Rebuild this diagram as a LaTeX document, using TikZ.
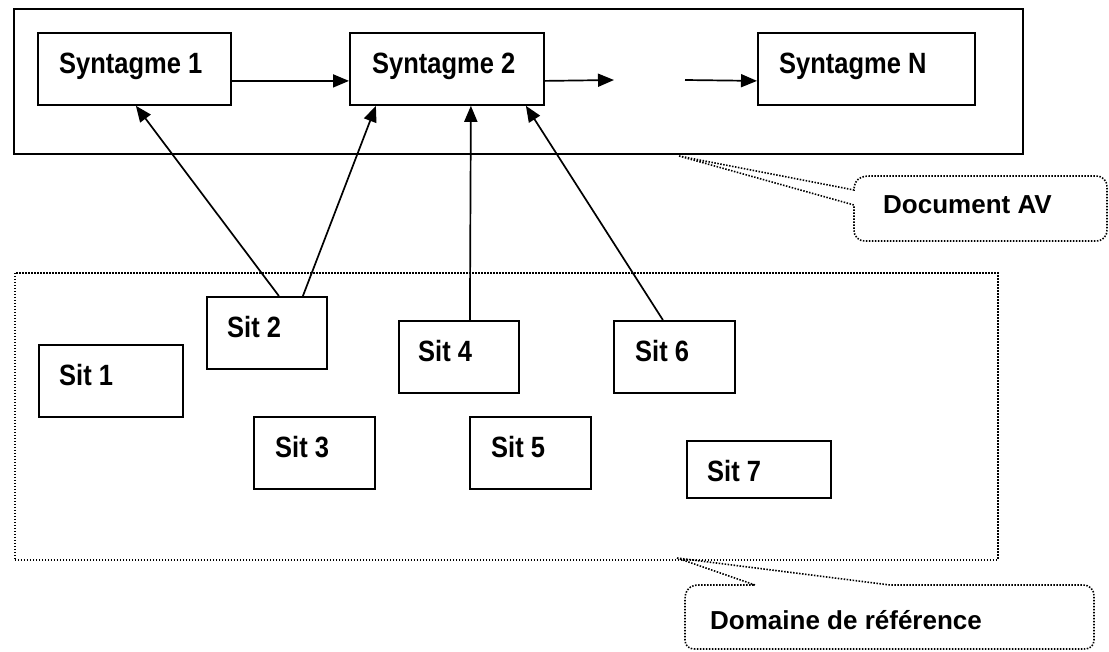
\documentclass[tikz,border=0pt]{standalone}
\usepackage{fontspec}
\usepackage{graphicx}
\setmainfont{Liberation Sans}
\usetikzlibrary{arrows.meta}
\newcommand\tallt[1]{\scalebox{1}[1.15]{#1}}
\tikzset{
  sbox/.style={draw=black, line width=1.8pt, fill=white, rectangle, inner sep=0pt, anchor=north west},
  txt/.style={anchor=base west, inner sep=0pt, font=\fontsize{25.5}{30}\selectfont\bfseries},
  arr/.style={line width=1.7pt, -{Triangle[length=16pt,width=13pt]}},
  dotline/.style={line width=1.6pt, dash pattern=on 1.5pt off 1.5pt},
}
\begin{document}
\begin{tikzpicture}[x=1pt, y=-1pt]
\useasboundingbox (0,0) rectangle (1109,651);
% outer document box
\node[sbox, line width=2.3pt, fill=none, minimum width=1009pt, minimum height=145pt] (doc) at (13,8) {};
% syntagmes
\node[sbox, minimum width=193pt, minimum height=72pt] (syn1) at (37,32) {};
\node[sbox, minimum width=194pt, minimum height=72pt] (syn2) at (349,32) {};
\node[sbox, minimum width=217pt, minimum height=72pt] (synN) at (757,32) {};
\node[txt] (t1) at (59,73) {\tallt{Syntagme 1}};
\node[txt] (t2) at (372,73) {\tallt{Syntagme 2}};
\node[txt] (tN) at (779,73) {\tallt{Syntagme N}};
\coordinate (gapA) at (614,80);
\coordinate (gapB) at (685,80);
\draw[arr] ([yshift=-12pt]syn1.east) -- ([yshift=-12pt]syn2.west);
\draw[arr] ([yshift=-12pt]syn2.east) -- (gapA);
\draw[arr] (gapB) -- ([yshift=-12pt]synN.west);
% domain dotted box
\node[draw=black, dotline, rectangle, inner sep=0pt, anchor=north west, minimum width=983pt, minimum height=287pt] (dom) at (14,272) {};
% situations
\node[sbox, minimum width=144pt, minimum height=72pt] (sit1) at (38,344) {};
\node[sbox, minimum width=120pt, minimum height=72pt] (sit2) at (206,296) {};
\node[sbox, minimum width=121pt, minimum height=72pt] (sit3) at (253,416) {};
\node[sbox, minimum width=120pt, minimum height=72pt] (sit4) at (398,320) {};
\node[sbox, minimum width=121pt, minimum height=72pt] (sit5) at (469,416) {};
\node[sbox, minimum width=121pt, minimum height=72pt] (sit6) at (613,320) {};
\node[sbox, minimum width=144pt, minimum height=57pt] (sit7) at (686,440) {};
\node[txt] (st1) at (59,385) {\tallt{Sit 1}};
\node[txt] (st2) at (227,337) {\tallt{Sit 2}};
\node[txt] (st3) at (275,457) {\tallt{Sit 3}};
\node[txt] (st4) at (418,361) {\tallt{Sit 4}};
\node[txt] (st5) at (491,457) {\tallt{Sit 5}};
\node[txt] (st6) at (635,361) {\tallt{Sit 6}};
\node[txt] (st7) at (707,481) {\tallt{Sit 7}};
% links
\draw[arr] ([xshift=12pt]sit2.north) -- ([xshift=1.5pt]syn1.south);
\draw[arr] ([xshift=36pt]sit2.north) -- ([xshift=-71pt]syn2.south);
\draw[arr] ([xshift=11pt]sit4.north) -- ([xshift=24pt]syn2.south);
\draw[arr] ([xshift=-11.5pt]sit6.north) -- ([xshift=79pt]syn2.south);
% callout Document AV
\coordinate (tipA) at (679,156);
\draw[dotline] (tipA) -- (854,190) .. controls (854,180) and (860,176) .. (870,176) -- (1095,176)
  .. controls (1103,176) and (1107,180) .. (1107,188) -- (1107,229)
  .. controls (1107,237) and (1103,241) .. (1095,241) -- (866,241)
  .. controls (858,241) and (854,237) .. (854,229) -- (854,205) -- cycle;
\node[txt, font=\fontsize{26}{30}\selectfont\bfseries] (tdoc) at (883,213) {Document AV};
% callout Domaine
\coordinate (tipB) at (677,558);
\draw[dotline] (tipB) -- (755,585) -- (699,585) .. controls (690,585) and (685,590) .. (685,599) -- (685,640)
  .. controls (685,646) and (689,649) .. (695,649) -- (1084,649)
  .. controls (1090,649) and (1094,646) .. (1094,640) -- (1094,597)
  .. controls (1094,589) and (1090,585) .. (1082,585) -- (890,585) -- cycle;
\node[txt, font=\fontsize{26}{30}\selectfont\bfseries] (tdomr) at (710,629) {Domaine de r\'ef\'erence};
\end{tikzpicture}
\end{document}
